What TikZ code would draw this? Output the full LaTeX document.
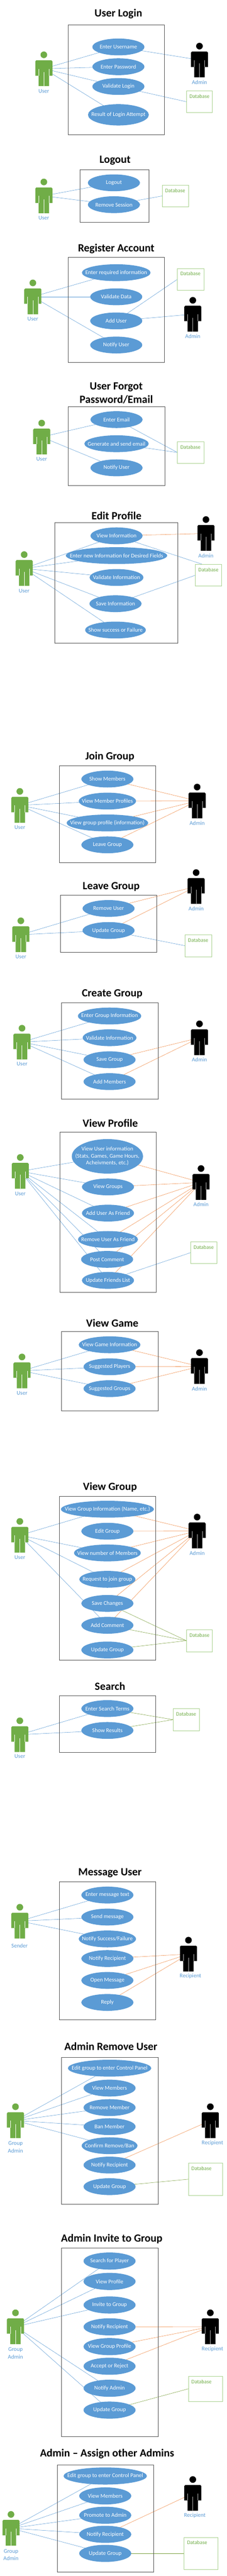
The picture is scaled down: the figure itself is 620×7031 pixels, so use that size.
\documentclass[tikz,border=0pt]{standalone}
\usepackage{fontspec}
\setmainfont{Carlito}
\usetikzlibrary{shapes.geometric,backgrounds}
\definecolor{ucblue}{HTML}{5B9BD5}
\definecolor{linkorange}{HTML}{F08A45}
\definecolor{usergreen}{HTML}{70AD47}
\definecolor{dbborder}{HTML}{A9D18E}
\definecolor{linkolive}{HTML}{7A9F3C}
\definecolor{boxgray}{HTML}{505050}
\tikzset{
  usecase/.style={ellipse,fill=ucblue,draw=none,inner sep=0pt,outer sep=0pt,text=white,font=\fontsize{15.5}{19}\selectfont},
  sysbox/.style={draw=boxgray,line width=0.8pt,fill=none},
  dbrect/.style={draw=dbborder,line width=0.9pt,fill=none},
  dbtext/.style={text=usergreen,inner sep=0pt,font=\fontsize{14.5}{16}\selectfont},
  actortext/.style={text=ucblue,inner sep=0pt,align=center,font=\fontsize{15.5}{20}\selectfont},
  titletext/.style={text=black,inner sep=0pt,align=center,font=\bfseries\fontsize{30}{37}\selectfont},
  blue link/.style={draw=ucblue,line width=0.75pt},
  orange link/.style={draw=linkorange,line width=0.75pt},
  olive link/.style={draw=linkolive,line width=0.75pt},
}
\newcommand{\ucase}[6][120]{\node[usecase,minimum width=#5*0.39541pt,minimum height=#1*0.38265pt] (#2) at (#3,#4) {\makebox[0pt]{#6}};}
% name, x, y, body colour, separator colour, label x, label y, label
\newcommand{\actorfig}[8]{%
  \node[inner sep=0pt,minimum size=0pt] (#1) at (#2,#3) {};
  \begin{scope}[shift={(#2,#3)}]
    \fill[#4] (0,-99) ellipse [x radius=23,y radius=23.8];
    \fill[#4] (-52,-60) -- (52,-60) -- (59,-52) -- (59,50) -- (36,50) -- (36,124) -- (-36,124) -- (-36,50) -- (-59,50) -- (-59,-52) -- cycle;
    \draw[#5,line width=0.7pt] (-36,1) -- (-36,50) (36,1) -- (36,50) (0,25) -- (0,124);
  \end{scope}
  \node[actortext] (#1text) at (#6,#7) {#8};
}
% name, x1, y1, x2, y2, text x, text y
\newcommand{\dbfig}[7]{%
  \coordinate (#1) at (#2,{(#3+#5)/2});
  \draw[dbrect] (#2,#3) rectangle (#4,#5);
  \node[dbtext] (#1text) at (#6,#7) {Database};
}
\newcommand{\conn}[3]{\begin{pgfonlayer}{background}\draw[#1 link] (#2.center) -- (#3.center);\end{pgfonlayer}}
\newcommand{\ttl}[4]{\node[titletext] (#1) at (#2,#3) {#4};}
\begin{document}
\begin{tikzpicture}[x=0.39541pt,y=-0.38265pt]
\useasboundingbox (0pt,0pt) rectangle (620pt,-7031pt);
\begin{pgfonlayer}{background}\fill[white] (0pt,0pt) rectangle (620pt,-7031pt);\end{pgfonlayer}

% ---- crop 1
\begin{scope}
\ttl{tA}{818}{100}{User Login}
\draw[sysbox] (470,178) rectangle (1136,960);
\ucase{aE}{818}{335}{360}{Enter Username}
\ucase{aP}{818}{476}{360}{Enter Password}
\ucase{aV}{818}{617}{360}{Validate Login}
\ucase[152]{aR}{818}{819}{420}{Result of Login Attempt}
\actorfig{aU}{303}{490}{usergreen}{white}{303}{650}{User}
\actorfig{aA}{1378}{428}{black}{gray!60}{1378}{586}{Admin}
\dbfig{aD}{1287}{647}{1468}{804}{1378}{687}
\conn{blue}{aU}{aE}\conn{blue}{aU}{aP}\conn{blue}{aU}{aV}\conn{blue}{aU}{aR}
\conn{blue}{aE}{aA}\conn{blue}{aV}{aD}

\ttl{tB}{795}{1143}{Logout}
\draw[sysbox] (551,1210) rectangle (1030,1586);
\ucase{bL}{787}{1304}{360}{Logout}
\ucase{bR}{787}{1460}{360}{Remove Session}
\actorfig{bU}{303}{1397}{usergreen}{white}{303}{1555}{User}
\dbfig{bD}{1120}{1320}{1302}{1476}{1210}{1359}
\conn{blue}{bU}{bL}\conn{blue}{bU}{bR}\conn{blue}{bR}{bD}
\end{scope}

% ---- crop 2
\begin{scope}[yshift=-600pt]
\ttl{tC}{803}{205}{Register Account}
\draw[sysbox] (470,268) rectangle (1136,1018);
\ucase{cE}{803}{377}{474}{Enter required information}
\ucase{cV}{803}{549}{360}{Validate Data}
\ucase{cA}{803}{721}{360}{Add User}
\ucase{cN}{803}{893}{360}{Notify User}
\actorfig{cU}{227}{549}{usergreen}{white}{227}{707}{User}
\actorfig{cM}{1332}{673}{black}{gray!60}{1332}{832}{Admin}
\dbfig{cD}{1226}{346}{1408}{502}{1316}{385}
\conn{blue}{cU}{cE}\conn{blue}{cU}{cV}\conn{blue}{cU}{cN}
\conn{blue}{cA}{cM}\conn{blue}{cA}{cD}

\ttl{tD}{803}{1236}{User Forgot\\Password/Email}
\draw[sysbox] (472,1332) rectangle (1139,1893);
\ucase{dE}{805}{1425}{360}{Enter Email}
\ucase{dG}{805}{1597}{444}{Generate and send email}
\ucase{dN}{805}{1769}{360}{Notify User}
\actorfig{dU}{288}{1549}{usergreen}{white}{288}{1707}{User}
\dbfig{dD}{1226}{1582}{1408}{1737}{1316}{1620}
\conn{blue}{dU}{dE}\conn{blue}{dU}{dN}\conn{blue}{dE}{dD}\conn{blue}{dG}{dD}
\end{scope}

% ---- crop 3
\begin{scope}[yshift=-1200pt]
\ttl{tE}{805}{544}{Edit Profile}
\draw[sysbox] (379,592) rectangle (1227,1451);
\ucase{eV}{805}{686}{360}{View Information}
\ucase{eN}{805}{827}{700}{Enter new Information for Desired Fields}
\ucase{eC}{805}{983}{372}{Validate Information}
\ucase{eS}{798}{1170}{360}{Save Information}
\ucase{eF}{798}{1358}{420}{Show success or Failure}
\actorfig{eU}{167}{919}{usergreen}{white}{167}{1078}{User}
\actorfig{eA}{1423}{669}{black}{gray!60}{1423}{827}{Admin}
\dbfig{eD}{1350}{889}{1532}{1045}{1440}{928}
\coordinate (eDtop) at (1395,888);
\conn{blue}{eU}{eV}\conn{blue}{eU}{eN}\conn{blue}{eU}{eC}\conn{blue}{eU}{eS}\conn{blue}{eU}{eF}
\conn{orange}{eV}{eA}\conn{blue}{eV}{eDtop}\conn{blue}{eS}{eD}
\end{scope}

% ---- crop 4
\begin{scope}[yshift=-1800pt]
\ttl{tF}{759}{695}{Join Group}
\draw[sysbox] (409,759) rectangle (1075,1447);
\ucase{fM}{742}{853}{360}{Show Members}
\ucase{fP}{742}{1010}{396}{View Member Profiles}
\ucase{fG}{742}{1166}{564}{View group profile (information)}
\ucase{fL}{742}{1322}{360}{Leave Group}
\actorfig{fU}{137}{1040}{usergreen}{white}{137}{1198}{User}
\actorfig{fA}{1362}{1009}{black}{gray!60}{1362}{1166}{Admin}
\conn{blue}{fU}{fM}\conn{blue}{fU}{fP}\conn{blue}{fU}{fG}\conn{blue}{fU}{fL}
\conn{orange}{fM}{fA}\conn{orange}{fP}{fA}\conn{orange}{fG}{fA}\conn{orange}{fL}{fA}
\end{scope}

% ---- crop 5
\begin{scope}[yshift=-2400pt]
\ttl{tG}{768}{52}{Leave Group}
\draw[sysbox] (417,114) rectangle (1083,521);
\ucase{gR}{750}{208}{360}{Remove User}
\ucase{gP}{750}{365}{360}{Update Group}
\actorfig{gU}{144}{395}{usergreen}{white}{144}{552}{User}
\actorfig{gA}{1355}{51}{black}{gray!60}{1355}{208}{Admin}
\dbfig{gD}{1279}{396}{1461}{552}{1369}{435}
\conn{blue}{gU}{gR}\conn{blue}{gU}{gP}\conn{orange}{gR}{gA}\conn{orange}{gP}{gA}\conn{blue}{gP}{gD}

\ttl{tH}{775}{818}{Create Group}
\draw[sysbox] (424,880) rectangle (1091,1568);
\ucase{hE}{757}{975}{438}{Enter Group Information}
\ucase{hV}{757}{1130}{372}{Validate Information}
\ucase{hS}{757}{1287}{360}{Save Group}
\ucase{hM}{757}{1443}{360}{Add Members}
\actorfig{hU}{152}{1161}{usergreen}{white}{152}{1318}{User}
\actorfig{hA}{1378}{1130}{black}{gray!60}{1378}{1287}{Admin}
\conn{blue}{hU}{hE}\conn{blue}{hU}{hV}\conn{blue}{hU}{hS}\conn{blue}{hU}{hM}
\conn{orange}{hS}{hA}\conn{orange}{hM}{hA}
\end{scope}

% ---- crop 6
\begin{scope}[yshift=-3000pt]
\ttl{tI}{762}{172}{View Profile}
\draw[sysbox] (413,235) rectangle (1078,1376);
\ucase[246]{iI}{742}{408}{492}{\begin{tabular}{@{}c@{}}View User information\\(Stats, Games, Game Hours,\\Acheivments, etc.)\end{tabular}}
\ucase{iG}{746}{626}{360}{View Groups}
\ucase{iA}{746}{813}{360}{Add User As Friend}
\ucase{iR}{746}{1001}{414}{Remove User As Friend}
\ucase{iC}{740}{1143}{360}{Post Comment}
\ucase{iF}{746}{1293}{360}{Update Friends List}
\actorfig{iU}{140}{515}{usergreen}{white}{140}{673}{User}
\actorfig{iM}{1389}{594}{black}{gray!60}{1389}{751}{Admin}
\dbfig{iD}{1317}{1017}{1499}{1173}{1407}{1056}
\conn{blue}{iU}{iI}\conn{blue}{iU}{iG}\conn{blue}{iU}{iA}\conn{blue}{iU}{iR}\conn{blue}{iU}{iC}\conn{blue}{iU}{iF}
\conn{orange}{iI}{iM}\conn{orange}{iG}{iM}\conn{orange}{iA}{iM}\conn{orange}{iR}{iM}\conn{orange}{iC}{iM}\conn{orange}{iF}{iM}
\conn{blue}{iF}{iD}
\end{scope}

% ---- crop 7
\begin{scope}[yshift=-3600pt]
\ttl{tJ}{776}{28}{View Game}
\draw[sysbox] (424,90) rectangle (1091,653);
\ucase{jI}{757}{184}{426}{View Game Information}
\ucase{jP}{757}{341}{360}{Suggested Players}
\ucase{jG}{757}{497}{360}{Suggested Groups}
\actorfig{jU}{152}{370}{usergreen}{white}{152}{528}{User}
\actorfig{jA}{1378}{339}{black}{gray!60}{1378}{497}{Admin}
\conn{blue}{jU}{jI}\conn{blue}{jU}{jP}\conn{blue}{jU}{jG}
\conn{orange}{jI}{jA}\conn{orange}{jP}{jA}\conn{orange}{jG}{jA}

\ttl{tK}{760}{1200}{View Group}
\draw[sysbox] (409,1263) rectangle (1075,2435);
\ucase{kI}{742}{1357}{642}{View Group Information (Name, etc.)}
\ucase{kE}{742}{1514}{360}{Edit Group}
\ucase{kN}{742}{1669}{462}{View number of Members}
\ucase{kR}{742}{1857}{388}{Request to join group}
\ucase{kS}{742}{2029}{360}{Save Changes}
\ucase{kC}{742}{2185}{360}{Add Comment}
\ucase{kG}{742}{2361}{360}{Update Group}
\actorfig{kU}{137}{1543}{usergreen}{white}{137}{1700}{User}
\actorfig{kA}{1362}{1512}{black}{gray!60}{1362}{1671}{Admin}
\dbfig{kD}{1287}{2216}{1468}{2373}{1378}{2255}
\conn{blue}{kU}{kI}\conn{blue}{kU}{kN}\conn{blue}{kU}{kR}\conn{blue}{kU}{kC}
\conn{orange}{kI}{kA}\conn{orange}{kE}{kA}\conn{orange}{kN}{kA}\conn{orange}{kR}{kA}\conn{orange}{kS}{kA}\conn{orange}{kC}{kA}
\conn{olive}{kS}{kD}\conn{olive}{kC}{kD}\conn{olive}{kG}{kD}
\end{scope}

% ---- crop 8
\begin{scope}[yshift=-4200pt]
\ttl{tL}{760}{1052}{Search}
\draw[sysbox] (409,1118) rectangle (1075,1524);
\ucase{lE}{742}{1211}{360}{Enter Search Terms}
\ucase{lS}{742}{1367}{360}{Show Results}
\actorfig{lU}{137}{1397}{usergreen}{white}{137}{1553}{User}
\dbfig{lD}{1196}{1212}{1378}{1368}{1286}{1251}
\conn{blue}{lU}{lE}\conn{blue}{lU}{lS}\conn{olive}{lE}{lD}\conn{olive}{lS}{lD}
\end{scope}

% ---- crop 9
\begin{scope}[yshift=-4800pt]
\ttl{tM}{760}{816}{Message User}
\draw[sysbox] (409,878) rectangle (1075,1864);
\ucase{mE}{742}{973}{360}{Enter message text}
\ucase{mS}{742}{1130}{360}{Send message}
\ucase{mN}{742}{1286}{396}{Notify Success/Failure}
\ucase{mR}{742}{1426}{360}{Notify Recipient}
\ucase{mO}{742}{1582}{360}{Open Message}
\ucase{mY}{742}{1739}{360}{Reply}
\actorfig{mU}{137}{1159}{usergreen}{white}{135}{1334}{Sender}
\actorfig{mC}{1302}{1394}{black}{gray!60}{1316}{1550}{Recipient}
\conn{blue}{mU}{mE}\conn{blue}{mU}{mS}\conn{blue}{mU}{mN}
\conn{orange}{mR}{mC}\conn{orange}{mO}{mC}\conn{orange}{mY}{mC}
\end{scope}

% ---- crop 10
\begin{scope}[yshift=-5400pt]
\ttl{tN}{766}{484}{Admin Remove User}
\draw[sysbox] (424,562) rectangle (1091,1610);
\ucase{nE}{757}{640}{576}{Edit group to enter Control Panel}
\ucase{nV}{757}{782}{360}{View Members}
\ucase{nM}{757}{921}{360}{Remove Member}
\ucase{nB}{757}{1057}{360}{Ban Member}
\ucase{nC}{757}{1193}{386}{Confirm Remove/Ban}
\ucase{nR}{757}{1331}{360}{Notify Recipient}
\ucase{nG}{757}{1485}{360}{Update Group}
\actorfig{nU}{107}{1014}{usergreen}{white}{107}{1203}{Group\\Admin}
\actorfig{nA}{1453}{1014}{black}{gray!60}{1468}{1172}{Recipient}
\dbfig{nD}{1302}{1317}{1537}{1547}{1392}{1356}
\conn{blue}{nU}{nE}\conn{blue}{nU}{nV}\conn{blue}{nU}{nM}\conn{blue}{nU}{nB}\conn{blue}{nU}{nC}
\conn{orange}{nR}{nA}\conn{olive}{nG}{nD}
\end{scope}

% ---- crop 11
\begin{scope}[yshift=-6000pt]
\ttl{tO}{772}{290}{Admin Invite to Group}
\draw[sysbox] (424,354.5) rectangle (1091,1698.6);
\ucase[122]{oS}{757}{447.7}{360}{Search for Player}
\ucase[122]{oV}{757}{593}{360}{View Profile}
\ucase[122]{oI}{757}{761}{360}{Invite to Group}
\ucase[122]{oR}{757}{917}{360}{Notify Recipient}
\ucase[122]{oP}{757}{1058}{360}{View Group Profile}
\ucase[122]{oA}{757}{1198}{360}{Accept or Reject}
\ucase[122]{oN}{757}{1355}{360}{Notify Admin}
\ucase[122]{oG}{757}{1511}{360}{Update Group}
\actorfig{oU}{107}{916}{usergreen}{white}{107}{1105}{Group\\Admin}
\actorfig{oC}{1453}{916}{black}{gray!60}{1468}{1076}{Recipient}
\dbfig{oD}{1302}{1269}{1537}{1448.6}{1392}{1308}
\conn{blue}{oU}{oS}\conn{blue}{oU}{oV}\conn{blue}{oU}{oI}\conn{blue}{oU}{oN}\conn{blue}{oU}{oG}
\conn{orange}{oR}{oC}\conn{orange}{oP}{oC}\conn{orange}{oA}{oC}\conn{olive}{oG}{oD}
\end{scope}

% ---- crop 12
\begin{scope}[yshift=-6520pt]
\ttl{tP}{740}{462}{Admin -- Assign other Admins}
\draw[sysbox] (394,543.5) rectangle (1060,1308);
\ucase[122]{pE}{727}{622}{576}{Edit group to enter Control Panel}
\ucase[122]{pV}{727}{764}{360}{View Members}
\ucase[122]{pP}{727}{902}{360}{Promote to Admin}
\ucase[122]{pR}{727}{1038}{360}{Notify Recipient}
\ucase[122]{pG}{727}{1174}{360}{Update Group}
\actorfig{pU}{76}{995}{usergreen}{white}{76}{1184}{Group\\Admin}
\actorfig{pC}{1332}{746}{black}{gray!60}{1346}{902}{Recipient}
\dbfig{pD}{1272}{1059}{1506}{1289}{1362}{1097}
\conn{blue}{pU}{pE}\conn{blue}{pU}{pV}\conn{blue}{pU}{pP}\conn{blue}{pU}{pR}\conn{blue}{pU}{pG}
\conn{orange}{pR}{pC}\conn{olive}{pG}{pD}
\end{scope}
\end{tikzpicture}
\end{document}
